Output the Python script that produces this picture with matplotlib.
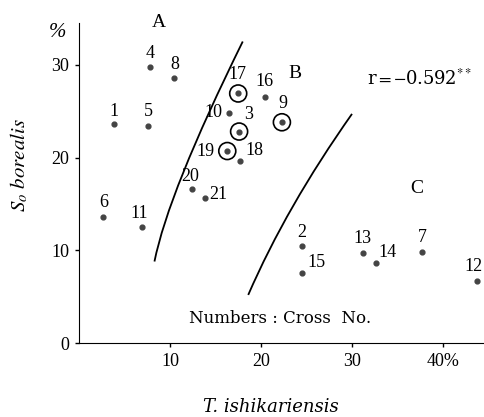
import matplotlib.pyplot as plt
from matplotlib.path import Path
from matplotlib.patches import PathPatch

plt.rcParams['font.family'] = ['Liberation Serif', 'DejaVu Serif']
plt.rcParams['mathtext.fontset'] = 'stix'

# cross numbers, x = T. ishikariensis %, y = S0 borealis %
cross_no = ['1', '2', '3', '4', '5', '6', '7', '8', '9', '10', '11',
            '12', '13', '14', '15', '16', '17', '18', '19', '20', '21']
t_ishik = [3.9, 24.5, 17.6, 7.8, 7.6, 2.7, 37.7, 10.4, 22.3, 16.5, 6.9,
           43.7, 31.2, 32.6, 24.5, 20.4, 17.5, 17.7, 16.3, 12.4, 13.8]
s_boreal = [23.6, 10.5, 22.8, 29.7, 23.4, 13.6, 9.8, 28.6, 23.8, 24.8, 12.5,
            6.7, 9.7, 8.6, 7.6, 26.5, 26.9, 19.6, 20.7, 16.6, 15.6]
circled = ['3', '9', '17', '19']

# hand-drawn group boundaries (start, bend, end)
curve1 = [(8.3, 8.8), (9.8, 16.2), (18.0, 32.5)]
curve2 = [(18.6, 5.2), (22.8, 14.7), (30.0, 24.7)]

# label offsets in pixels
offsets = {'1': (0, 13), '2': (0, 13), '3': (10, 17), '4': (0, 14), '5': (0, 14),
           '6': (0, 14), '7': (0, 15), '8': (1, 13), '9': (1, 19), '10': (-16, 0),
           '11': (-2, 14), '12': (-3, 14), '13': (0, 15), '14': (12, 11), '15': (15, 10),
           '16': (0, 16), '17': (-1, 19), '18': (14, 11), '19': (-22, 0), '20': (-2, 13),
           '21': (14, 4)}

fig = plt.figure(figsize=(4.84, 4.17), dpi=100)
ax = fig.add_axes([0.163, 0.177, 0.837, 0.768])

ax.scatter(t_ishik, s_boreal, s=12, color='#444444', zorder=3)
cx = [x for x, n in zip(t_ishik, cross_no) if n in circled]
cy = [y for y, n in zip(s_boreal, cross_no) if n in circled]
ax.scatter(cx, cy, s=150, facecolors='none', edgecolors='black', linewidths=1.2, zorder=3)

for n, x, y in zip(cross_no, t_ishik, s_boreal):
    dx, dy = offsets[n]
    ax.annotate(n, (x, y), xytext=(dx, dy), textcoords='offset pixels',
                ha='center', va='center', fontsize=13, annotation_clip=False)

for c in (curve1, curve2):
    p = Path(c, [Path.MOVETO, Path.CURVE3, Path.CURVE3])
    ax.add_patch(PathPatch(p, facecolor='none', edgecolor='black', lw=1.3))

ax.text(8.8, 34.6, 'A', fontsize=14, ha='center', va='center')
ax.text(23.7, 29.1, 'B', fontsize=14, ha='center', va='center')
ax.text(37.1, 16.7, 'C', fontsize=14, ha='center', va='center')
ax.text(31.6, 28.5, r'r$=-$0.592$^{**}$', fontsize=13, ha='left', va='center',
        family='DejaVu Serif')
ax.text(12.1, 2.7, 'Numbers : Cross  No.', fontsize=12, ha='left', va='center',
        family='DejaVu Serif')

ax.set_xlim(0, 44.5)
ax.set_ylim(0, 34.5)
ax.set_xticks([10, 20, 30, 40])
ax.set_xticklabels(['10', '20', '30', '40%'])
ax.set_yticks([0, 10, 20, 30])
ax.tick_params(labelsize=13, length=3, width=1, pad=4)
ax.spines['top'].set_visible(False)
ax.spines['right'].set_visible(False)
ax.text(-0.052, 0.97, '%', transform=ax.transAxes, fontsize=15, style='italic',
        ha='center', va='center')

ax.set_ylabel(r'$S_o$ $\it{borealis}$', fontsize=15)
ax.yaxis.set_label_coords(-0.12, 0.556)
ax.set_xlabel('T. ishikariensis', fontsize=13, style='italic', family='DejaVu Serif',
              va='center')
ax.xaxis.set_label_coords(0.474, -0.2)

fig.savefig('out.png', dpi=100)
